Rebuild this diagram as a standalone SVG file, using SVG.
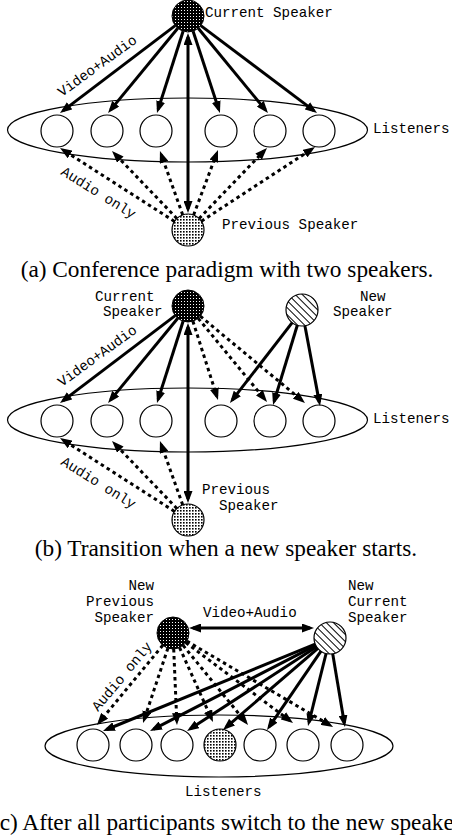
<svg xmlns="http://www.w3.org/2000/svg" width="452" height="836" viewBox="0 0 452 836">
  <defs>
    <!-- dense dark fill for the current speaker -->
    <pattern id="darkFill" width="3" height="3" patternUnits="userSpaceOnUse">
      <rect width="3" height="3" fill="#000"/>
      <rect x="1" y="1" width="1" height="1" fill="#fff"/>
    </pattern>
    <!-- light stipple for the previous speaker -->
    <pattern id="stipple" width="3" height="3" patternUnits="userSpaceOnUse">
      <rect width="3" height="3" fill="#fff"/>
      <rect width="1.6" height="1.6" fill="#000"/>
    </pattern>
    <!-- diagonal hatch for the new speaker -->
    <pattern id="hatch" width="5" height="5" patternUnits="userSpaceOnUse" patternTransform="rotate(-45)">
      <rect width="5" height="5" fill="#fff"/>
      <line x1="0.5" y1="0" x2="0.5" y2="5" stroke="#000" stroke-width="1"/>
    </pattern>
    <marker id="head" viewBox="0 0 12 9" refX="8" refY="4.5" markerWidth="12" markerHeight="9" markerUnits="userSpaceOnUse" orient="auto-start-reverse">
      <path d="M0,0 L12,4.5 L0,9 z" fill="#000"/>
    </marker>
  </defs>
  <style>
    .group { fill: none; stroke: #000; stroke-width: 1.2; }
    .peer { fill: #fff; stroke: #000; stroke-width: 1.2; }
    .va { fill: none; stroke: #000; stroke-width: 3; marker-end: url(#head); }
    .both { fill: none; stroke: #000; stroke-width: 3; marker-start: url(#head); marker-end: url(#head); }
    .ao { fill: none; stroke: #000; stroke-width: 3; stroke-dasharray: 3.5 3.5; marker-end: url(#head); }
    .mono { font-family: "Liberation Mono", "Courier New", monospace; font-size: 14.2px; fill: #000; }
    .cap { font-family: "Liberation Serif", "Times New Roman", serif; font-size: 23.3px; fill: #000; text-anchor: middle; }
  </style>

  <!-- ===== (a) Conference paradigm with two speakers ===== -->
  <g id="a-listeners">
    <ellipse class="group" cx="187.5" cy="130" rx="180" ry="32"/>
    <circle class="peer" cx="57" cy="131" r="16"/>
    <circle class="peer" cx="107" cy="131" r="16"/>
    <circle class="peer" cx="156" cy="131" r="16"/>
    <circle class="peer" cx="221" cy="131" r="16"/>
    <circle class="peer" cx="270" cy="131" r="16"/>
    <circle class="peer" cx="319" cy="131" r="16"/>
    <text class="mono" x="373" y="133">Listeners</text>
  </g>
  <g id="a-current-speaker">
    <circle cx="188" cy="16" r="16" fill="url(#darkFill)" stroke="#000" stroke-width="1"/>
    <text class="mono" x="205" y="17">Current Speaker</text>
  </g>
  <g id="a-previous-speaker">
    <circle cx="188" cy="230" r="16" fill="url(#stipple)" stroke="#000" stroke-width="1.2"/>
    <text class="mono" x="222" y="229">Previous Speaker</text>
  </g>
  <g id="a-connectors">
    <line class="va" x1="175.2" y1="25.6" x2="63.2" y2="110.6"/>
    <line class="va" x1="177.8" y1="28.3" x2="110.6" y2="109.9"/>
    <line class="va" x1="183.1" y1="31.2" x2="158.2" y2="109.2"/>
    <line class="va" x1="193.1" y1="31.2" x2="218.7" y2="109.2"/>
    <line class="va" x1="198.2" y1="28.3" x2="265.4" y2="109.9"/>
    <line class="va" x1="200.8" y1="25.6" x2="313.8" y2="110.6"/>
    <line class="both" x1="188" y1="209" x2="188" y2="37"/>
    <line class="ao" x1="174.5" y1="221.4" x2="63.4" y2="150.2"/>
    <line class="ao" x1="176.9" y1="218.5" x2="114.8" y2="153.9"/>
    <line class="ao" x1="182.7" y1="214.9" x2="161.3" y2="154.8"/>
    <line class="ao" x1="193.6" y1="215" x2="216.6" y2="153.7"/>
    <line class="ao" x1="199.1" y1="218.5" x2="264.2" y2="150.9"/>
    <line class="ao" x1="201.4" y1="221.2" x2="311.7" y2="149.2"/>
    <text class="mono" x="62" y="97" transform="rotate(-36 62 97)">Video+Audio</text>
    <text class="mono" x="60" y="174" transform="rotate(32 60 174)">Audio only</text>
  </g>
  <text class="cap" x="227" y="277">(a) Conference paradigm with two speakers.</text>

  <!-- ===== (b) Transition when a new speaker starts ===== -->
  <g id="b-listeners">
    <ellipse class="group" cx="187.5" cy="420" rx="180" ry="32"/>
    <circle class="peer" cx="57" cy="421" r="16"/>
    <circle class="peer" cx="107" cy="421" r="16"/>
    <circle class="peer" cx="156" cy="421" r="16"/>
    <circle class="peer" cx="221" cy="421" r="16"/>
    <circle class="peer" cx="270" cy="421" r="16"/>
    <circle class="peer" cx="319" cy="421" r="16"/>
    <text class="mono" x="373" y="423">Listeners</text>
  </g>
  <g id="b-current-speaker">
    <circle cx="188" cy="306" r="16" fill="url(#darkFill)" stroke="#000" stroke-width="1"/>
    <text class="mono" x="95" y="301">Current</text>
    <text class="mono" x="103" y="316">Speaker</text>
  </g>
  <g id="b-new-speaker">
    <circle cx="302" cy="310" r="16" fill="url(#hatch)" stroke="#000" stroke-width="1.2"/>
    <text class="mono" x="360" y="301">New</text>
    <text class="mono" x="333" y="316">Speaker</text>
  </g>
  <g id="b-previous-speaker">
    <circle cx="188" cy="520" r="16" fill="url(#stipple)" stroke="#000" stroke-width="1.2"/>
    <text class="mono" x="202" y="494">Previous</text>
    <text class="mono" x="219" y="510">Speaker</text>
  </g>
  <g id="b-connectors">
    <line class="va" x1="175.2" y1="315.6" x2="63.2" y2="400.6"/>
    <line class="va" x1="177.8" y1="318.3" x2="110.6" y2="399.9"/>
    <line class="va" x1="183.1" y1="321.2" x2="158.2" y2="399.2"/>
    <line class="ao" x1="192.9" y1="321.2" x2="216.8" y2="396.2"/>
    <line class="ao" x1="198.2" y1="318.4" x2="264.5" y2="398.9"/>
    <line class="ao" x1="200.3" y1="316.2" x2="301.9" y2="400.4"/>
    <line class="va" x1="292.2" y1="322.7" x2="232.4" y2="399.8"/>
    <line class="va" x1="297.3" y1="325.3" x2="274.2" y2="401.2"/>
    <line class="va" x1="304.9" y1="325.7" x2="319.3" y2="402.1"/>
    <line class="both" x1="188" y1="499" x2="188" y2="327"/>
    <line class="ao" x1="174.5" y1="511.4" x2="63.4" y2="440.2"/>
    <line class="ao" x1="176.9" y1="508.5" x2="114.8" y2="443.9"/>
    <line class="ao" x1="182.7" y1="504.9" x2="161.3" y2="444.8"/>
    <text class="mono" x="62" y="387" transform="rotate(-36 62 387)">Video+Audio</text>
    <text class="mono" x="60" y="464" transform="rotate(32 60 464)">Audio only</text>
  </g>
  <text class="cap" x="226" y="556">(b) Transition when a new speaker starts.</text>

  <!-- ===== (c) After all participants switch to the new speaker ===== -->
  <g id="c-listeners">
    <ellipse class="group" cx="219" cy="746" rx="174" ry="31"/>
    <circle class="peer" cx="93" cy="745" r="16"/>
    <circle class="peer" cx="136" cy="745" r="16"/>
    <circle class="peer" cx="177" cy="745" r="16"/>
    <circle cx="220" cy="745" r="16" fill="url(#stipple)" stroke="#000" stroke-width="1.2"/>
    <circle class="peer" cx="260" cy="745" r="16"/>
    <circle class="peer" cx="303" cy="745" r="16"/>
    <circle class="peer" cx="347" cy="745" r="16"/>
    <text class="mono" x="185" y="796">Listeners</text>
  </g>
  <g id="c-new-previous-speaker">
    <circle cx="173" cy="633" r="16" fill="url(#darkFill)" stroke="#000" stroke-width="1"/>
    <text class="mono" x="154" y="590" text-anchor="end">New</text>
    <text class="mono" x="154" y="606" text-anchor="end">Previous</text>
    <text class="mono" x="154" y="622" text-anchor="end">Speaker</text>
  </g>
  <g id="c-new-current-speaker">
    <circle cx="330" cy="638" r="16" fill="url(#hatch)" stroke="#000" stroke-width="1.2"/>
    <text class="mono" x="348" y="590">New</text>
    <text class="mono" x="348" y="606">Current</text>
    <text class="mono" x="348" y="622">Speaker</text>
  </g>
  <g id="c-connectors">
    <line class="both" x1="193" y1="628" x2="310" y2="628"/>
    <text class="mono" x="203" y="617">Video+Audio</text>
    <line class="ao" x1="162.8" y1="645.3" x2="99.5" y2="721.9"/>
    <line class="ao" x1="167.9" y1="648.2" x2="144.3" y2="719.2"/>
    <line class="ao" x1="173.7" y1="649" x2="176.8" y2="721"/>
    <line class="ao" x1="179.6" y1="647.6" x2="211.4" y2="718.4"/>
    <line class="ao" x1="183.1" y1="645.4" x2="245.5" y2="721.9"/>
    <line class="ao" x1="185.8" y1="642.6" x2="289.8" y2="720.6"/>
    <line class="ao" x1="186.8" y1="641.1" x2="329.6" y2="725"/>
    <line class="va" x1="315.2" y1="644.1" x2="106.7" y2="729.5"/>
    <line class="va" x1="315.8" y1="645.3" x2="153.6" y2="729.2"/>
    <line class="va" x1="316.6" y1="646.7" x2="190.4" y2="728.8"/>
    <line class="va" x1="317.9" y1="648.4" x2="226" y2="727.4"/>
    <line class="va" x1="321" y1="651.2" x2="269.3" y2="726.7"/>
    <line class="va" x1="326.1" y1="653.5" x2="309" y2="722.1"/>
    <line class="va" x1="332.7" y1="653.8" x2="344.3" y2="723.1"/>
    <text class="mono" x="98" y="712" transform="rotate(-50 98 712)">Audio only</text>
  </g>
  <text class="cap" x="229" y="830">(c) After all participants switch to the new speaker.</text>
</svg>
